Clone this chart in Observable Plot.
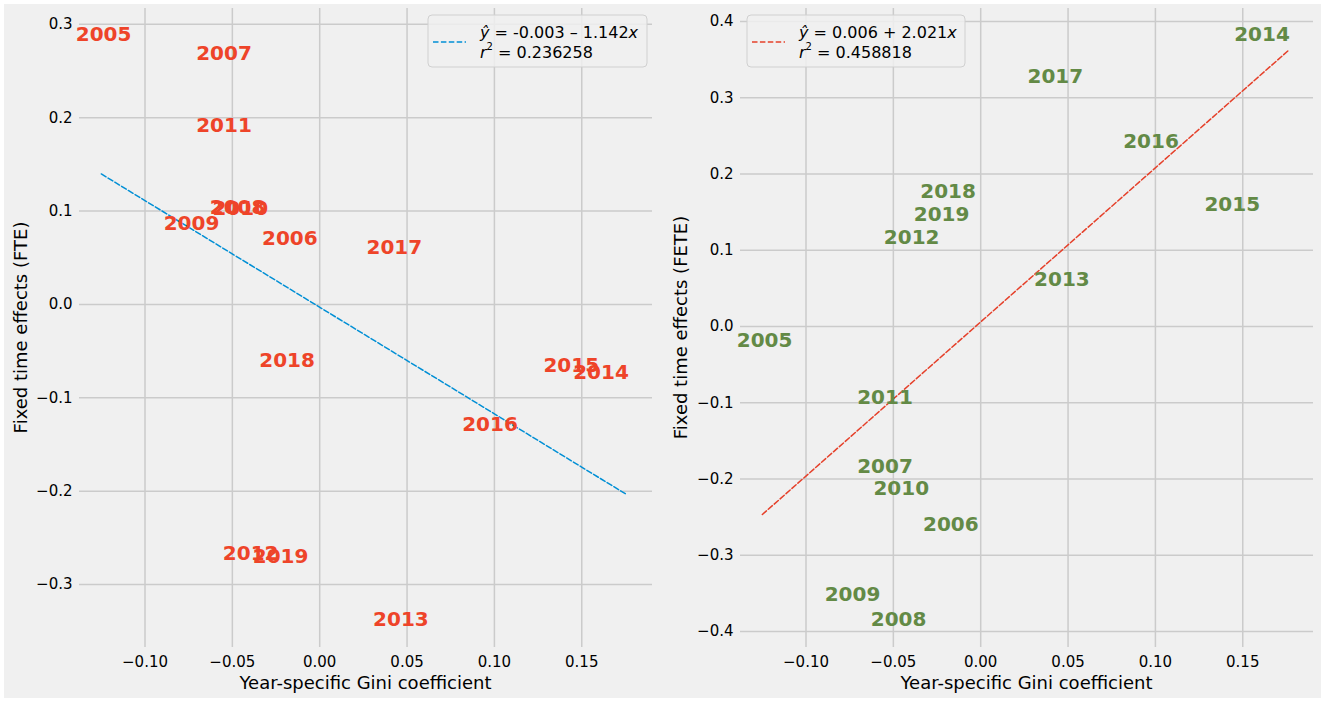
<!DOCTYPE html>
<html>
<head>
<meta charset="utf-8">
<script src="https://cdn.jsdelivr.net/npm/d3@7"></script>
<script src="https://cdn.jsdelivr.net/npm/@observablehq/plot@0.6"></script>
<style>
  html, body { margin: 0; padding: 0; background: #fff; }
  #fig { position: relative; width: 1325px; height: 703px; background: #fff; overflow: hidden; }
  #bg { position: absolute; left: 4px; top: 4px; width: 1317px; height: 694px; background: #f0f0f0; }
  #left, #right { position: absolute; top: 0; }
  #left { left: 0; }
  #right { left: 660px; }
</style>
</head>
<body>
<div id="fig">
  <div id="bg"></div>
  <div id="left"></div>
  <div id="right"></div>
</div>
<script>
// ---- data ----
const years = [2005, 2006, 2007, 2008, 2009, 2010, 2011, 2012, 2013, 2014, 2015, 2016, 2017, 2018, 2019];
const gini  = [-0.1237, -0.0171, -0.0548, -0.0470, -0.0734, -0.0455, -0.0548, -0.0395, 0.0465, 0.1610, 0.1440, 0.0975, 0.0427, -0.0187, -0.0224];
const fte   = [0.289, 0.0704, 0.2686, 0.104, 0.0864, 0.103, 0.1918, -0.2664, -0.3375, -0.0725, -0.0654, -0.1286, 0.0607, -0.0607, -0.270];
const fete  = [-0.0184, -0.2603, -0.1838, -0.3838, -0.3515, -0.2122, -0.0934, 0.1167, 0.0612, 0.3825, 0.160, 0.2426, 0.328, 0.177, 0.1469];

const fitRange = [-0.125, 0.176];
const fitLeft  = {a: -0.003, b: -1.142, eq: "-0.003 \u2013 1.142", r2: "0.236258"};
const fitRight = {a: 0.006, b: 2.021, eq: "0.006 + 2.021", r2: "0.458818"};

const xTicks = [-0.10, -0.05, 0.00, 0.05, 0.10, 0.15];
const yTicksLeft  = [-0.3, -0.2, -0.1, 0.0, 0.1, 0.2, 0.3];
const yTicksRight = [-0.4, -0.3, -0.2, -0.1, 0.0, 0.1, 0.2, 0.3, 0.4];

const xLabel = "Year-specific Gini coefficient";
const yLabelLeft = "Fixed time effects (FTE)";
const yLabelRight = "Fixed time effects (FETE)";

// ---- style ----
const FONT = "DejaVu Sans, sans-serif";
const H = 703, MT = 8, MB = 56;
const GRID = "#cbcbcb";

function panel(opt) {
  const rows = years.map((yr, i) => ({year: String(yr), x: gini[i], y: opt.yv[i]}));
  const plot = Plot.plot({
    width: opt.width, height: H,
    marginLeft: opt.ml, marginRight: opt.mr, marginTop: MT, marginBottom: MB,
    style: {background: "transparent", fontFamily: FONT, fontSize: "15px", color: "#000", overflow: "visible"},
    x: {domain: [-0.1375, 0.1905]},
    y: {domain: opt.yDomain},
    marks: [
      Plot.gridX(xTicks, {stroke: GRID, strokeOpacity: 1, strokeWidth: 1.5}),
      Plot.gridY(opt.yTicks, {stroke: GRID, strokeOpacity: 1, strokeWidth: 1.5}),
      Plot.axisX(xTicks, {tickSize: 0, tickPadding: 9, tickFormat: d3.format(".2f"), label: null, fontSize: 15}),
      Plot.axisY(opt.yTicks, {tickSize: 0, tickPadding: 7, tickFormat: d3.format(".1f"), label: null, fontSize: 15}),
      Plot.line(fitRange, {x: d => d, y: d => opt.fit.a + opt.fit.b * d, stroke: opt.lineColor, strokeWidth: 1.5, strokeDasharray: "5.5,2.4"}),
      Plot.text(rows, {x: "x", y: "y", text: "year", fill: opt.color, fontWeight: "bold", fontSize: 20, fontFamily: FONT})
    ]
  });
  const svg = d3.select(plot);
  const pw = opt.width - opt.ml - opt.mr;
  // axis titles
  svg.append("text")
    .attr("x", opt.ml + pw / 2).attr("y", 682)
    .attr("text-anchor", "middle").attr("dominant-baseline", "central")
    .attr("font-family", FONT).attr("font-size", 18).attr("fill", "#000")
    .text(xLabel);
  svg.append("text")
    .attr("transform", `translate(${opt.ylx},${MT + (H - MT - MB) / 2}) rotate(-90)`)
    .attr("text-anchor", "middle").attr("dominant-baseline", "central")
    .attr("font-family", FONT).attr("font-size", 18).attr("fill", "#000")
    .text(opt.ylabel);
  // legend
  const g = svg.append("g").attr("transform", `translate(${opt.legX},15)`).attr("text-anchor", "start");
  g.append("rect").attr("x", 0).attr("y", 0).attr("width", opt.legW).attr("height", 52)
    .attr("rx", 4).attr("fill", "#f0f0f0").attr("fill-opacity", 0.85)
    .attr("stroke", "#d0d0d0").attr("stroke-width", 1);
  g.append("line").attr("x1", 5).attr("x2", 38).attr("y1", 27).attr("y2", 27)
    .attr("stroke", opt.lineColor).attr("stroke-width", 1.5).attr("stroke-dasharray", "5.5,2.4");
  const t1 = g.append("text").attr("x", 52).attr("y", 17).attr("dominant-baseline", "central")
    .attr("text-anchor", "start")
    .attr("font-family", FONT).attr("font-size", 16).attr("fill", "#000");
  t1.append("tspan").attr("font-style", "italic").text("\u0177");
  t1.append("tspan").text(" = " + opt.fit.eq);
  t1.append("tspan").attr("font-style", "italic").text("x");
  const t2 = g.append("text").attr("x", 52).attr("y", 37).attr("dominant-baseline", "central")
    .attr("text-anchor", "start")
    .attr("font-family", FONT).attr("font-size", 16).attr("fill", "#000");
  t2.append("tspan").attr("font-style", "italic").text("r");
  t2.append("tspan").attr("font-size", 10).attr("dy", -6).text("2");
  t2.append("tspan").attr("dy", 6).text(" = " + opt.fit.r2);
  return plot;
}

document.getElementById("left").appendChild(panel({
  width: 660, ml: 79, mr: 8,
  yv: fte, yDomain: [-0.3675, 0.317], yTicks: yTicksLeft,
  fit: fitLeft, lineColor: "#008fd5", color: "#ee4429",
  ylabel: yLabelLeft, ylx: 20, legX: 428, legW: 219
}));
document.getElementById("right").appendChild(panel({
  width: 665, ml: 80, mr: 12,
  yv: fete, yDomain: [-0.421, 0.417], yTicks: yTicksRight,
  fit: fitRight, lineColor: "#e5402a", color: "#638a46",
  ylabel: yLabelRight, ylx: 20, legX: 87, legW: 218
}));
</script>
</body>
</html>
